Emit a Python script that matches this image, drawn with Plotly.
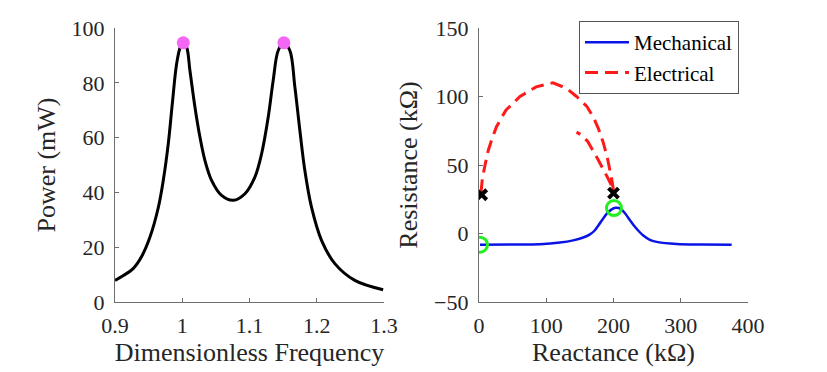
import plotly.graph_objects as go

# Left panel: power vs dimensionless frequency
freq = [0.900, 0.912, 0.927, 0.940, 0.952, 0.9644, 0.9718, 0.9792, 0.9852, 0.9916, 0.9971, 1.0015,
        1.0065, 1.0114, 1.0189, 1.0263, 1.0337, 1.0436, 1.0585, 1.0758, 1.0932, 1.108, 1.118,
        1.1278, 1.1352, 1.1427, 1.1511, 1.160, 1.1675, 1.1749, 1.1823, 1.1922, 1.2071, 1.2269,
        1.2566, 1.2987]
power = [7.9, 9.6, 12.2, 16.8, 23.7, 34.5, 44.4, 57.7, 72.3, 86.9, 93.0, 94.6,
         93.0, 84.5, 71.1, 60.2, 51.7, 44.4, 38.9, 37.1, 39.5, 45.6, 54.1,
         67.4, 80.8, 91.8, 94.6, 91.8, 78.4, 62.6, 48.0, 34.6, 22.5, 14.0,
         7.9, 4.5]
peak_freq = [1.0015, 1.1511]
peak_power = [94.6, 94.6]

# Right panel: impedance loci
mech_x = [1.5, 45, 90.7, 120.4, 140, 155, 165, 172, 178, 184.9, 191, 197.3, 203, 208, 213,
          218, 224, 230, 237, 244.3, 254, 266, 294, 330, 375.7]
mech_y = [-8.2, -8.0, -7.8, -6.6, -5.0, -2.9, -0.6, 2.2, 6.2, 11.2, 15.0, 17.6, 18.8, 18.6, 17.0,
          14.2, 10.0, 6.0, 2.0, -1.5, -4.6, -6.3, -7.6, -8.0, -8.2]
elec_x = [3, 5, 9, 14, 20, 26, 40, 61, 85, 110, 130, 145, 160, 170, 178, 185, 191, 195, 198, 200,
          196, 190, 184, 177, 170, 162, 152, 145]
elec_y = [30, 40, 50, 61, 70, 78, 90, 100, 107, 110, 106, 100, 93, 85, 76, 66, 55, 46, 38, 31,
          36, 42, 48, 54, 60, 67, 72, 74]
cross_x = [4, 200]
cross_y = [28.3, 29.5]
circ_x = [1.5, 200.7]
circ_y = [-8.2, 18.6]

xticks_left = [0.9, 1.0, 1.1, 1.2, 1.3]
xticklabels_left = ["0.9", "1", "1.1", "1.2", "1.3"]
yticks_left = [0, 20, 40, 60, 80, 100]
xticks_right = [0, 100, 200, 300, 400]
yticks_right = [-50, 0, 50, 100, 150]

FONT = "Liberation Serif, Times New Roman, serif"
AXC = "#6e6e6e"
TXT = "#262626"

fig = go.Figure()
fig.add_trace(go.Scatter(x=freq, y=power, mode="lines",
                         line=dict(color="black", width=3, shape="spline", smoothing=1.0),
                         showlegend=False, xaxis="x", yaxis="y"))
fig.add_trace(go.Scatter(x=peak_freq, y=peak_power, mode="markers",
                         marker=dict(color="#f466f4", size=13), showlegend=False, xaxis="x", yaxis="y"))

fig.add_trace(go.Scatter(x=mech_x, y=mech_y, mode="lines", name="Mechanical",
                         line=dict(color="#0a14e6", width=2.5, shape="spline", smoothing=0.8),
                         xaxis="x2", yaxis="y2"))
fig.add_trace(go.Scatter(x=elec_x, y=elec_y, mode="lines", name="Electrical",
                         line=dict(color="#ff1a1a", width=3, dash="13px,7px"), xaxis="x2", yaxis="y2"))
fig.add_trace(go.Scatter(x=cross_x, y=cross_y, mode="markers", showlegend=False,
                         marker=dict(symbol="x-thin", size=10, line=dict(color="black", width=4)),
                         xaxis="x2", yaxis="y2"))
fig.add_trace(go.Scatter(x=circ_x, y=circ_y, mode="markers", showlegend=False,
                         marker=dict(symbol="circle-open", size=15, color="#22ee22",
                                     line=dict(color="#22ee22", width=3)),
                         xaxis="x2", yaxis="y2"))

axis_common = dict(showline=True, linecolor=AXC, linewidth=1.2, ticks="inside", ticklen=4,
                   tickcolor=AXC, showgrid=False, zeroline=False, mirror=False, automargin=False,
                   tickfont=dict(family=FONT, size=22, color=TXT),
                   title_font=dict(family=FONT, size=26, color=TXT))

ML, MR, MT, MB = 110, 70, 28, 70
PW = 827 - ML - MR


def xd(a, b):
    return [(a - ML) / PW, (b - ML) / PW]


fig.update_layout(
    width=827, height=372, margin=dict(l=ML, r=MR, t=MT, b=MB),
    paper_bgcolor="white", plot_bgcolor="white",
    xaxis=dict(domain=xd(115, 384), range=[0.9, 1.3], tickvals=xticks_left,
               ticktext=xticklabels_left, title=dict(text="Dimensionless Frequency", standoff=6),
               anchor="y", ticklabelstandoff=3, **axis_common),
    yaxis=dict(domain=[0, 1], range=[0, 100], tickvals=yticks_left, ticklabelstandoff=5,
               title=dict(text="Power (mW)", standoff=8), anchor="x", **axis_common),
    xaxis2=dict(domain=xd(479, 748), range=[0, 400], tickvals=xticks_right, ticklabelstandoff=3,
                title=dict(text="Reactance (kΩ)", standoff=6), anchor="y2", **axis_common),
    yaxis2=dict(domain=[0, 1], range=[-50, 150], tickvals=yticks_right, ticklabelstandoff=5,
                title=dict(text="Resistance (kΩ)", standoff=8), anchor="x2", **axis_common),
    legend=dict(x=(579 - ML) / PW, y=1 + (MT - 21) / (372 - MT - MB), xanchor="left", yanchor="top",
                bordercolor="#555", borderwidth=1, bgcolor="white", itemwidth=44,
                font=dict(family=FONT, size=21, color="black"), tracegroupgap=0),
    showlegend=True,
)

fig.write_html("out.html", post_script="document.body.style.margin='0px';",
               config={"displayModeBar": False})
